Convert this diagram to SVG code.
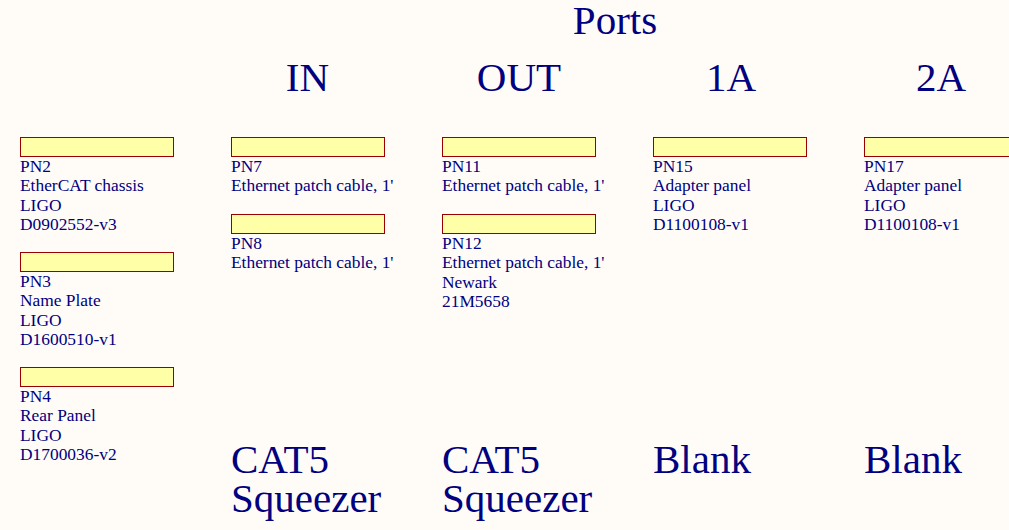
<svg xmlns="http://www.w3.org/2000/svg" width="1009" height="530" viewBox="0 0 1009 530">
<style>
.bg{fill:#fffcf7}
.box{fill:#ffffa8;stroke:#990000;stroke-width:1}
.t{font-family:"Liberation Serif",serif;font-size:17.4px;fill:#000080}
.h{font-family:"Liberation Serif",serif;font-size:41px;fill:#000080}
.m{text-anchor:middle}
</style>
<rect class="bg" x="0" y="0" width="1009" height="530"/>
<g id="headers">
<text class="h m" x="615" y="34">Ports</text>
<text class="h m" x="307.5" y="91">IN</text>
<text class="h m" x="519" y="91">OUT</text>
<text class="h m" x="731" y="91">1A</text>
<text class="h m" x="941" y="91">2A</text>
</g>
<g id="PN2"><rect class="box" x="20.5" y="137.5" width="153" height="19"/>
<text class="t" x="20" y="172">PN2</text><text class="t" x="20" y="191.3">EtherCAT chassis</text><text class="t" x="20" y="210.6">LIGO</text><text class="t" x="20" y="229.9">D0902552-v3</text></g>
<g id="PN3"><rect class="box" x="20.5" y="252.5" width="153" height="19"/>
<text class="t" x="20" y="287">PN3</text><text class="t" x="20" y="306.3">Name Plate</text><text class="t" x="20" y="325.6">LIGO</text><text class="t" x="20" y="344.9">D1600510-v1</text></g>
<g id="PN4"><rect class="box" x="20.5" y="367.5" width="153" height="19"/>
<text class="t" x="20" y="402">PN4</text><text class="t" x="20" y="421.3">Rear Panel</text><text class="t" x="20" y="440.6">LIGO</text><text class="t" x="20" y="459.9">D1700036-v2</text></g>
<g id="PN7"><rect class="box" x="231.5" y="137.5" width="153" height="19"/>
<text class="t" x="231" y="172">PN7</text><text class="t" x="231" y="191.3">Ethernet patch cable, 1'</text></g>
<g id="PN8"><rect class="box" x="231.5" y="214.5" width="153" height="19"/>
<text class="t" x="231" y="249">PN8</text><text class="t" x="231" y="268.3">Ethernet patch cable, 1'</text></g>
<g id="PN11"><rect class="box" x="442.5" y="137.5" width="153" height="19"/>
<text class="t" x="442" y="172">PN11</text><text class="t" x="442" y="191.3">Ethernet patch cable, 1'</text></g>
<g id="PN12"><rect class="box" x="442.5" y="214.5" width="153" height="19"/>
<text class="t" x="442" y="249">PN12</text><text class="t" x="442" y="268.3">Ethernet patch cable, 1'</text><text class="t" x="442" y="287.6">Newark</text><text class="t" x="442" y="306.9">21M5658</text></g>
<g id="PN15"><rect class="box" x="653.5" y="137.5" width="153" height="19"/>
<text class="t" x="653" y="172">PN15</text><text class="t" x="653" y="191.3">Adapter panel</text><text class="t" x="653" y="210.6">LIGO</text><text class="t" x="653" y="229.9">D1100108-v1</text></g>
<g id="PN17"><rect class="box" x="864.5" y="137.5" width="153" height="19"/>
<text class="t" x="864" y="172">PN17</text><text class="t" x="864" y="191.3">Adapter panel</text><text class="t" x="864" y="210.6">LIGO</text><text class="t" x="864" y="229.9">D1100108-v1</text></g>
<g id="footers">
<text class="h" x="231" y="473">CAT5</text><text class="h" x="231" y="511.7">Squeezer</text>
<text class="h" x="442" y="473">CAT5</text><text class="h" x="442" y="511.7">Squeezer</text>
<text class="h" x="653" y="473">Blank</text>
<text class="h" x="864" y="473">Blank</text>
</g>
<g id="connectors"/>
</svg>
